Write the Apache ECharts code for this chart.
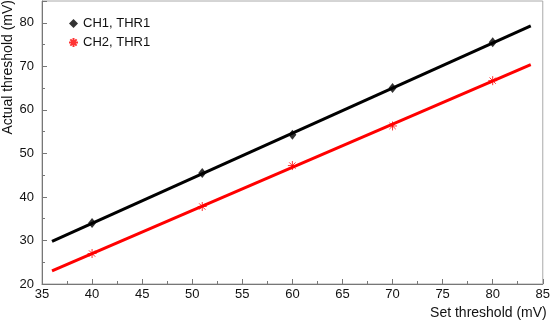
<!DOCTYPE html>
<html>
<head>
<meta charset="utf-8">
<script src="https://cdn.jsdelivr.net/npm/echarts@6/dist/echarts.min.js"></script>
<style>
  html, body { margin: 0; padding: 0; background: #fff; }
  #chart { width: 553px; height: 324px; }
</style>
</head>
<body>
<div id="chart"></div>
<script>
// 测量点：设定阈值 vs 实际阈值 (mV)
const setCH1 = [40, 51, 60, 70, 80];
const actCH1 = [34.0, 45.5, 54.3, 65.0, 75.5];
const setCH2 = [40, 51, 60, 70, 80];
const actCH2 = [27.0, 37.8, 47.2, 56.3, 66.7];

// 拟合直线的两个端点
const fitX = [36.0, 83.8];
const fitCH1 = [29.8, 79.3];
const fitCH2 = [23.0, 70.4];

const names = ['CH1, THR1', 'CH2, THR1'];

// 星号标记
const asterisk = 'path://M0,-10L0,10M-10,0L10,0M-7,-7L7,7M-7,7L7,-7';

const chart = echarts.init(document.getElementById('chart'));
const font = 'Liberation Sans, Arial, sans-serif';

function pairs(xs, ys) { return xs.map((x, i) => [x, ys[i]]); }

chart.setOption({
    animation: false,
    textStyle: { fontFamily: font },
    grid: { left: 42, right: 7, top: 1, bottom: 40, show: true, borderColor: '#aaa', borderWidth: 1 },
    legend: {
        orient: 'vertical', left: 63, top: 12,
        itemWidth: 9, itemHeight: 9, itemGap: 6,
        textStyle: { fontSize: 13, color: '#111', fontFamily: font },
        data: [{ name: names[0], icon: 'diamond' }, { name: names[1], icon: asterisk }]
    },
    xAxis: {
        type: 'value', min: 35, max: 85, interval: 5,
        name: 'Set threshold (mV)', nameLocation: 'end', nameGap: 4,
        nameTextStyle: { fontSize: 14, color: '#111', align: 'right', verticalAlign: 'top', padding: [22, 0, 0, 0] },
        axisLine: { lineStyle: { color: '#777' } },
        axisTick: { inside: true, length: 5, lineStyle: { color: '#777' } },
        minorTick: { show: true, splitNumber: 2, length: 3, lineStyle: { color: '#777' } },
        axisLabel: { fontSize: 13, color: '#111', margin: 4 },
        splitLine: { show: false }
    },
    yAxis: {
        type: 'value', min: 20, max: 85, interval: 10,
        axisLine: { show: true, lineStyle: { color: '#777' } },
        axisTick: { show: true, inside: true, length: 5, lineStyle: { color: '#777' } },
        minorTick: { show: true, splitNumber: 2, length: 3, lineStyle: { color: '#777' } },
        axisLabel: { fontSize: 13, color: '#111', margin: 8, showMaxLabel: false },
        splitLine: { show: false }
    },
    graphic: [{
        type: 'text', x: 8, y: 0, rotation: Math.PI / 2,
        style: { text: 'Actual threshold (mV)', fill: '#111', font: '14px ' + font, align: 'right', verticalAlign: 'middle' }
    }],
    series: [
        {
            type: 'line', name: 'fit1', data: pairs(fitX, fitCH1), symbol: 'none',
            lineStyle: { color: '#000', width: 3 }, z: 2
        },
        {
            type: 'line', name: 'fit2', data: pairs(fitX, fitCH2), symbol: 'none',
            lineStyle: { color: '#f00', width: 3 }, z: 2
        },
        {
            type: 'scatter', name: names[0], data: pairs(setCH1, actCH1),
            symbol: 'diamond', symbolSize: [8, 10],
            itemStyle: { color: '#000' }, z: 3
        },
        {
            type: 'scatter', name: names[1], data: pairs(setCH2, actCH2),
            symbol: asterisk, symbolSize: 9,
            itemStyle: { color: 'transparent', borderColor: '#f00', borderWidth: 1 }, z: 3
        }
    ]
});
</script>
</body>
</html>
